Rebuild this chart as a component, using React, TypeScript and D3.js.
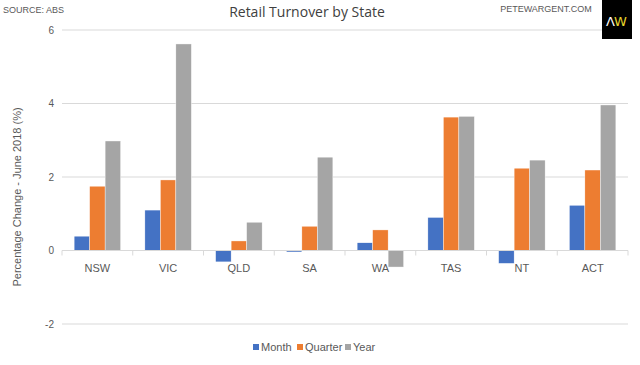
import React from 'react'
import * as d3 from 'd3'

const states = ['NSW', 'VIC', 'QLD', 'SA', 'WA', 'TAS', 'NT', 'ACT']
const monthValues = [0.39, 1.1, -0.31, -0.04, 0.21, 0.9, -0.35, 1.23]
const quarterValues = [1.75, 1.92, 0.26, 0.66, 0.56, 3.63, 2.24, 2.19]
const yearValues = [2.98, 5.62, 0.77, 2.54, -0.45, 3.65, 2.46, 3.96]
const seriesNames = ['Month', 'Quarter', 'Year']
const yTicks = [-2, 0, 2, 4, 6]

const colors = ['#4472C4', '#ED7D31', '#A5A5A5']
const font = 'Arial, "Liberation Sans", sans-serif'

const W = 640
const H = 365
const margin = { top: 30, right: 12, bottom: 41, left: 62 }

export default function App() {
  const series = [monthValues, quarterValues, yearValues]

  const x0 = d3.scaleBand<string>()
    .domain(states)
    .range([margin.left, W - margin.right])

  const groupW = x0.bandwidth() * 0.657
  const x1 = d3.scaleBand<string>()
    .domain(seriesNames)
    .range([0, groupW])

  const y = d3.scaleLinear()
    .domain([-2, 6])
    .range([H - margin.bottom, margin.top])
  const offset = (x0.bandwidth() - groupW) / 2

  const legendX = [253, 297, 345]

  return (
    <svg width={W} height={H} style={{ position: 'absolute', left: 0, top: 0, background: '#fff' }} fontFamily={font}>
      <rect x={0} y={0} width={W} height={H} fill="#fff" />

      {/* gridlines */}
      {yTicks.filter(t => t !== 0).map(t => (
        <line key={t} x1={margin.left} x2={W - margin.right} y1={y(t)} y2={y(t)} stroke="#d9d9d9" strokeWidth={1} />
      ))}
      {yTicks.map(t => (
        <text key={'l' + t} x={54} y={y(t)} dy="0.35em" textAnchor="end" fontSize={10} fill="#595959">{t}</text>
      ))}

      {/* bars */}
      {states.map((s, i) => (
        <g key={s} transform={`translate(${x0(s)! + offset},0)`}>
          {series.map((vals, k) => {
            const v = vals[i]
            return (
              <rect key={k}
                x={x1(seriesNames[k])}
                y={Math.min(y(v), y(0))}
                width={x1.bandwidth()}
                height={Math.abs(y(v) - y(0))}
                fill={colors[k]} stroke="#fff" strokeWidth={0.4} />
            )
          })}
        </g>
      ))}

      {/* x axis */}
      <line x1={margin.left} x2={W - margin.right} y1={y(0)} y2={y(0)} stroke="#d9d9d9" />
      {states.map(s => (
        <line key={'t' + s} x1={x0(s)} x2={x0(s)} y1={y(0)} y2={y(0) + 5} stroke="#d9d9d9" />
      ))}
      <line x1={W - margin.right} x2={W - margin.right} y1={y(0)} y2={y(0) + 5} stroke="#d9d9d9" />
      {states.map(s => (
        <text key={'c' + s} x={x0(s)! + x0.bandwidth() / 2} y={268} dy="0.35em" textAnchor="middle" fontSize={11} fill="#595959">{s}</text>
      ))}

      {/* y axis title */}
      <text transform={`translate(21,${(margin.top + H - margin.bottom) / 2 + 20}) rotate(-90)`} textAnchor="middle" fontSize={11} fill="#595959">
        Percentage Change - June 2018 (%)
      </text>

      {/* title and source */}
      <text x={307} y={17} textAnchor="middle" fontSize={14} fill="#404040" fontFamily='"Open Sans", Lato, sans-serif'>Retail Turnover by State</text>
      <text x={3} y={13} fontSize={9} fill="#595959">SOURCE: ABS</text>
      <text x={546} y={12} textAnchor="middle" fontSize={9} fill="#595959">PETEWARGENT.COM</text>

      {/* logo */}
      <rect x={602} y={0} width={30} height={39} fill="#000" />
      <text x={606} y={26} fontSize={13} fill="#fff" fontFamily='"DejaVu Sans", sans-serif'>Λ</text>
      <text x={614} y={26} fontSize={13} fill="#e8d42c" fontFamily='"DejaVu Sans", sans-serif'>W</text>

      {/* legend */}
      {seriesNames.map((n, k) => (
        <g key={n} transform={`translate(${legendX[k]},347)`}>
          <rect x={0} y={-3} width={6} height={6} fill={colors[k]} />
          <text x={8} y={0} dy="0.35em" fontSize={11} fill="#595959">{n}</text>
        </g>
      ))}
    </svg>
  )
}
